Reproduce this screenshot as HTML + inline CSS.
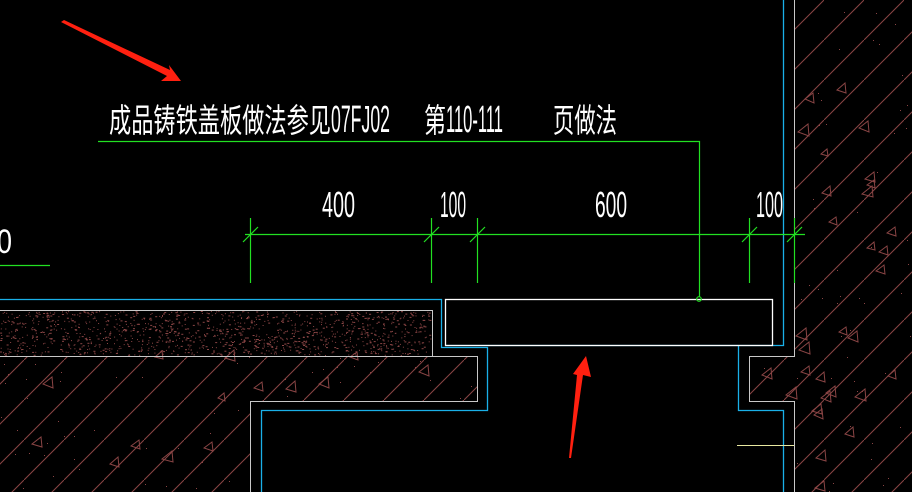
<!DOCTYPE html>
<html><head><meta charset="utf-8"><style>
html,body{margin:0;padding:0;background:#000;width:912px;height:492px;overflow:hidden}
svg{display:block}
.t{font-family:"Liberation Sans","Noto Sans CJK SC",sans-serif;fill:#fff;font-weight:normal}
</style></head><body>
<svg id="s" width="912" height="492" viewBox="0 0 912 492" xmlns="http://www.w3.org/2000/svg">
<defs>
<pattern id="h" patternUnits="userSpaceOnUse" x="24" y="0" width="40" height="40">
<line x1="-1" y1="41" x2="41" y2="-1" stroke="#8a4545" stroke-width="1"/>
</pattern>
</defs>
<rect width="912" height="492" fill="#000"/>
<path d="M0 356H477V401H250V492H0Z" fill="url(#h)"/>
<path d="M794 0H912V492H794V401H749V356H794Z" fill="url(#h)"/>
<g id="tri" fill="none" stroke="#8a4545" stroke-width="1"></g>
<g id="dots" fill="#8a4545"></g>
<g stroke="#c8c8c8" stroke-width="1" fill="none">
<path d="M0 310.5H432.5V356.5"/>
<path d="M0 356.5H477.5V401.5H250.5V492"/>
<path d="M794.5 0V356.5H749.5V401.5H794.5V492"/>
</g>
<g stroke="#1ab0e8" stroke-width="1.3" fill="none">
<path d="M0 299.5H441.5V347.5H487.5V410.5H261.5V492"/>
<path d="M783.5 0V345.5H445"/>
<path d="M738.5 345.5V410.5H783.5V492"/>
</g>
<rect x="445.5" y="299.5" width="327" height="46" fill="none" stroke="#fff" stroke-width="1.3"/>
<line x1="737" y1="445.5" x2="794" y2="445.5" stroke="#e8e8a0"/>
<g stroke="#22e022" stroke-width="1.2" fill="none">
<line x1="245" y1="234.5" x2="805" y2="234.5"/>
<line x1="250.5" y1="218" x2="250.5" y2="283"/>
<line x1="431.5" y1="218" x2="431.5" y2="283"/>
<line x1="477.5" y1="218" x2="477.5" y2="283"/>
<line x1="749.5" y1="218" x2="749.5" y2="283"/>
<line x1="794.5" y1="218" x2="794.5" y2="283"/>
<line x1="243" y1="242" x2="258" y2="227"/>
<line x1="424" y1="242" x2="439" y2="227"/>
<line x1="470" y1="242" x2="485" y2="227"/>
<line x1="742" y1="242" x2="757" y2="227"/>
<line x1="787" y1="242" x2="802" y2="227"/>
<path d="M98 141.5H699.5V297"/>
<circle cx="699" cy="299" r="2.3"/>
<line x1="0" y1="265.5" x2="50" y2="265.5"/>
</g>
<text class="t" x="109" y="132" font-size="33" textLength="222" lengthAdjust="spacingAndGlyphs">成品铸铁盖板做法参见</text>
<text class="t" x="331" y="132" font-size="38" textLength="59" lengthAdjust="spacingAndGlyphs">07FJ02</text>
<text class="t" x="424" y="132" font-size="33" textLength="22" lengthAdjust="spacingAndGlyphs">第</text>
<text class="t" x="446" y="132" font-size="38" textLength="57" lengthAdjust="spacingAndGlyphs">110-111</text>
<text class="t" x="553" y="132" font-size="33" textLength="64" lengthAdjust="spacingAndGlyphs">页做法</text>
<text class="t" x="322" y="217" font-size="36" textLength="33" lengthAdjust="spacingAndGlyphs">400</text>
<text class="t" x="440" y="217" font-size="36" textLength="26" lengthAdjust="spacingAndGlyphs">100</text>
<text class="t" x="595" y="217" font-size="36" textLength="32" lengthAdjust="spacingAndGlyphs">600</text>
<text class="t" x="756" y="217" font-size="36" textLength="27" lengthAdjust="spacingAndGlyphs">100</text>
<text class="t" x="-3" y="253" font-size="34" textLength="15" lengthAdjust="spacingAndGlyphs">0</text>
<g fill="#ff2010">
<path d="M61 22L64 20L170 70L169 65L181 81L161 81L167 76Z"/>
<path d="M569 458L577 375L573 374L586 356L591 377L583 375L571 458Z"/>
</g>
</svg>
<script>
(function(){
var d=document.getElementById("dots"),t=document.getElementById("tri");
var seed=7;function r(){seed=(seed*16807)%2147483647;return seed/2147483647;}
var s="";
for(var i=0;i<1300;i++){var x=r()*431,y=311+r()*44;s+='<rect x="'+x.toFixed(1)+'" y="'+y.toFixed(1)+'" width="'+(r()<0.3?2:1)+'" height="1"/>';}
function inL(x,y){return (y>357&&x<476&&y<400)||(y>=400&&x<249&&y<491);}
function inR(x,y){return (x>796&&x<911)||(x>750&&x<793&&y>357&&y<400);}
for(var j=0;j<500;j++){var x=r()*912,y=r()*492;if(inL(x,y)||inR(x,y))s+='<rect x="'+x.toFixed(0)+'" y="'+y.toFixed(0)+'" width="1" height="1"/>';}
d.innerHTML=s;
var tt="",n=0;
for(var k=0;k<2000&&n<45;k++){var x=r()*912,y=r()*492;if(!(inL(x,y)&&inL(x+10,y+10))&&!(inR(x,y)&&inR(x+10,y+10)))continue;
var sz=6+r()*4;n++;tt+='<path d="M'+x.toFixed(0)+' '+y.toFixed(0)+'l'+sz.toFixed(0)+' '+(-sz*0.8).toFixed(0)+'l1 '+(sz*1.2).toFixed(0)+'z"/>';}
t.innerHTML=tt;
})();
</script>
</body></html>
